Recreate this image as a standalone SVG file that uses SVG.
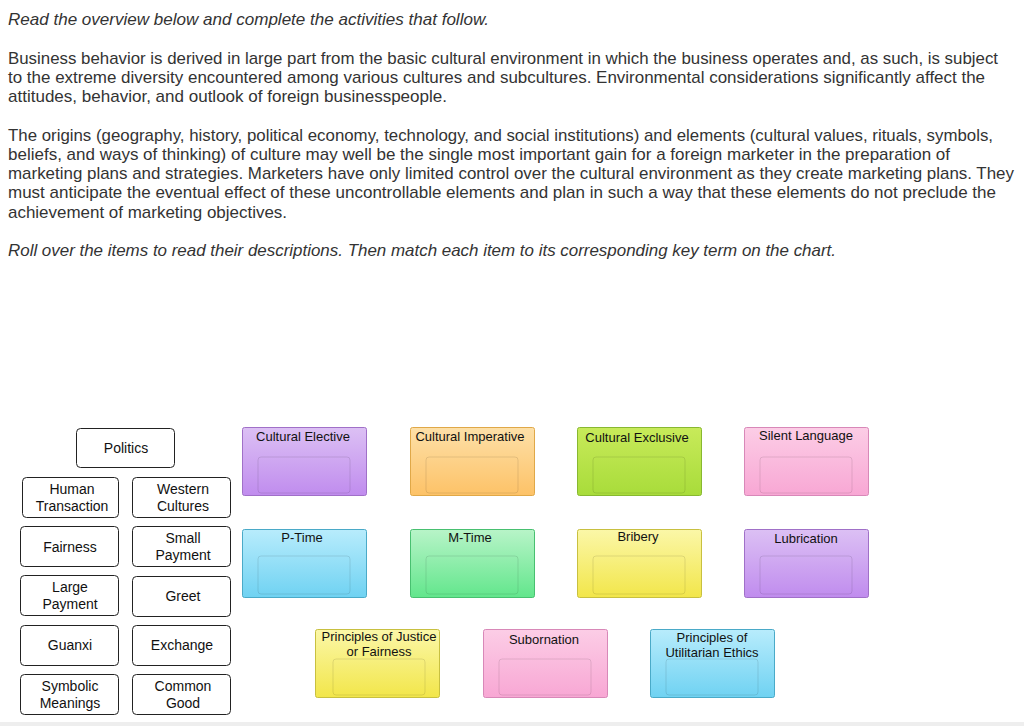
<svg xmlns="http://www.w3.org/2000/svg" width="1024" height="726" viewBox="0 0 1024 726">
<defs>
<style>
.p{font-family:"Liberation Sans",Arial,sans-serif;font-size:16.2px;fill:#333}
.i{font-style:italic}
.t{font-family:"Liberation Sans",Arial,sans-serif;font-size:14px;fill:#111;text-anchor:middle}
.s{font-family:"Liberation Sans",Arial,sans-serif;font-size:13px;fill:#111;text-anchor:middle}
.b{fill:#fff;stroke:#222;stroke-width:1}
.in{fill:none;stroke-width:1;stroke-opacity:0.1;stroke:#000}
</style>
<linearGradient id="pu" x1="0" y1="0" x2="0" y2="1"><stop offset="0" stop-color="#dcc0f4"/><stop offset="1" stop-color="#c08cee"/></linearGradient>
<linearGradient id="or" x1="0" y1="0" x2="0" y2="1"><stop offset="0" stop-color="#fde0a8"/><stop offset="1" stop-color="#fdc267"/></linearGradient>
<linearGradient id="gr" x1="0" y1="0" x2="0" y2="1"><stop offset="0" stop-color="#c8ea5a"/><stop offset="1" stop-color="#a8dc3a"/></linearGradient>
<linearGradient id="pk" x1="0" y1="0" x2="0" y2="1"><stop offset="0" stop-color="#fccde6"/><stop offset="1" stop-color="#f8a7d4"/></linearGradient>
<linearGradient id="bl" x1="0" y1="0" x2="0" y2="1"><stop offset="0" stop-color="#b8ecfc"/><stop offset="1" stop-color="#6fd2f2"/></linearGradient>
<linearGradient id="mg" x1="0" y1="0" x2="0" y2="1"><stop offset="0" stop-color="#b8f4c8"/><stop offset="1" stop-color="#62e68c"/></linearGradient>
<linearGradient id="ye" x1="0" y1="0" x2="0" y2="1"><stop offset="0" stop-color="#fbf7a8"/><stop offset="1" stop-color="#f2e64a"/></linearGradient>
</defs>
<text class="p i" x="8" y="25" textLength="481" lengthAdjust="spacingAndGlyphs">Read the overview below and complete the activities that follow.</text>
<text class="p" x="8" y="64" textLength="990" lengthAdjust="spacingAndGlyphs">Business behavior is derived in large part from the basic cultural environment in which the business operates and, as such, is subject</text>
<text class="p" x="8" y="83" textLength="977" lengthAdjust="spacingAndGlyphs">to the extreme diversity encountered among various cultures and subcultures. Environmental considerations significantly affect the</text>
<text class="p" x="8" y="102" textLength="439" lengthAdjust="spacingAndGlyphs">attitudes, behavior, and outlook of foreign businesspeople.</text>
<text class="p" x="8" y="141" textLength="985" lengthAdjust="spacingAndGlyphs">The origins (geography, history, political economy, technology, and social institutions) and elements (cultural values, rituals, symbols,</text>
<text class="p" x="8" y="160" textLength="942" lengthAdjust="spacingAndGlyphs">beliefs, and ways of thinking) of culture may well be the single most important gain for a foreign marketer in the preparation of</text>
<text class="p" x="8" y="179" textLength="1006" lengthAdjust="spacingAndGlyphs">marketing plans and strategies. Marketers have only limited control over the cultural environment as they create marketing plans. They</text>
<text class="p" x="8" y="198" textLength="988" lengthAdjust="spacingAndGlyphs">must anticipate the eventual effect of these uncontrollable elements and plan in such a way that these elements do not preclude the</text>
<text class="p" x="8" y="218" textLength="279" lengthAdjust="spacingAndGlyphs">achievement of marketing objectives.</text>
<text class="p i" x="8" y="256" textLength="828" lengthAdjust="spacingAndGlyphs">Roll over the items to read their descriptions. Then match each item to its corresponding key term on the chart.</text>

<g id="items">
<g id="politics"><rect class="b" x="76.5" y="428.5" width="98" height="39" rx="4"/><text class="t" x="126" y="453">Politics</text></g>
<g id="human"><rect class="b" x="22.5" y="477.5" width="96" height="40" rx="4"/><text class="t" x="72" y="494">Human</text><text class="t" x="72" y="511">Transaction</text></g>
<g id="western"><rect class="b" x="132.5" y="477.5" width="98" height="40" rx="4"/><text class="t" x="183" y="494">Western</text><text class="t" x="183" y="511">Cultures</text></g>
<g id="fairness"><rect class="b" x="20.5" y="526.5" width="98" height="40" rx="4"/><text class="t" x="70" y="552">Fairness</text></g>
<g id="small"><rect class="b" x="132.5" y="526.5" width="98" height="40" rx="4"/><text class="t" x="183" y="543">Small</text><text class="t" x="183" y="560">Payment</text></g>
<g id="large"><rect class="b" x="20.5" y="575.5" width="98" height="40" rx="4"/><text class="t" x="70" y="592">Large</text><text class="t" x="70" y="609">Payment</text></g>
<g id="greet"><rect class="b" x="132.5" y="576.5" width="98" height="40" rx="4"/><text class="t" x="183" y="601">Greet</text></g>
<g id="guanxi"><rect class="b" x="20.5" y="625.5" width="98" height="40" rx="4"/><text class="t" x="70" y="650">Guanxi</text></g>
<g id="exchange"><rect class="b" x="132.5" y="625.5" width="98" height="40" rx="4"/><text class="t" x="182" y="650">Exchange</text></g>
<g id="symbolic"><rect class="b" x="20.5" y="674.5" width="98" height="40" rx="4"/><text class="t" x="70" y="691">Symbolic</text><text class="t" x="70" y="708">Meanings</text></g>
<g id="common"><rect class="b" x="132.5" y="674.5" width="98" height="40" rx="4"/><text class="t" x="183" y="691">Common</text><text class="t" x="183" y="708">Good</text></g>
</g>

<g id="targets">
<g id="elective"><rect x="242.5" y="427.5" width="124" height="68" rx="2" fill="url(#pu)" stroke="#a070c8"/><rect class="in" x="258" y="457" width="92" height="36" rx="3"/><text class="s" x="303" y="441">Cultural Elective</text></g>
<g id="imperative"><rect x="410.5" y="427.5" width="124" height="68" rx="2" fill="url(#or)" stroke="#e0a848"/><rect class="in" x="426" y="457" width="92" height="36" rx="3"/><text class="s" x="470" y="441">Cultural Imperative</text></g>
<g id="exclusive"><rect x="577.5" y="427.5" width="124" height="68" rx="2" fill="url(#gr)" stroke="#88b830"/><rect class="in" x="593" y="457" width="92" height="36" rx="3"/><text class="s" x="637" y="442">Cultural Exclusive</text></g>
<g id="silent"><rect x="744.5" y="427.5" width="124" height="68" rx="2" fill="url(#pk)" stroke="#d888b8"/><rect class="in" x="760" y="457" width="92" height="36" rx="3"/><text class="s" x="806" y="440">Silent Language</text></g>
<g id="ptime"><rect x="242.5" y="529.5" width="124" height="68" rx="2" fill="url(#bl)" stroke="#4aaac8"/><rect class="in" x="258" y="556" width="92" height="38" rx="3"/><text class="s" x="302" y="542">P-Time</text></g>
<g id="mtime"><rect x="410.5" y="529.5" width="124" height="68" rx="2" fill="url(#mg)" stroke="#48c070"/><rect class="in" x="426" y="556" width="92" height="38" rx="3"/><text class="s" x="470" y="542">M-Time</text></g>
<g id="bribery"><rect x="577.5" y="529.5" width="124" height="68" rx="2" fill="url(#ye)" stroke="#c8c040"/><rect class="in" x="593" y="556" width="92" height="38" rx="3"/><text class="s" x="638" y="541">Bribery</text></g>
<g id="lubrication"><rect x="744.5" y="529.5" width="124" height="68" rx="2" fill="url(#pu)" stroke="#a070c8"/><rect class="in" x="760" y="556" width="92" height="38" rx="3"/><text class="s" x="806" y="543">Lubrication</text></g>
<g id="justice"><rect x="315.5" y="629.5" width="124" height="68" rx="2" fill="url(#ye)" stroke="#c8c040"/><rect class="in" x="333" y="659" width="92" height="36" rx="3"/><text class="s" x="379" y="641">Principles of Justice</text><text class="s" x="379" y="656">or Fairness</text></g>
<g id="subornation"><rect x="483.5" y="629.5" width="124" height="68" rx="2" fill="url(#pk)" stroke="#d888b8"/><rect class="in" x="499" y="659" width="92" height="36" rx="3"/><text class="s" x="544" y="644">Subornation</text></g>
<g id="utilitarian"><rect x="650.5" y="629.5" width="124" height="68" rx="2" fill="url(#bl)" stroke="#4aaac8"/><rect class="in" x="666" y="659" width="92" height="36" rx="3"/><text class="s" x="712" y="642">Principles of</text><text class="s" x="712" y="657">Utilitarian Ethics</text></g>
</g>
<g id="connectors"/>
<rect x="0" y="722" width="1024" height="4" fill="#eee"/>
</svg>
